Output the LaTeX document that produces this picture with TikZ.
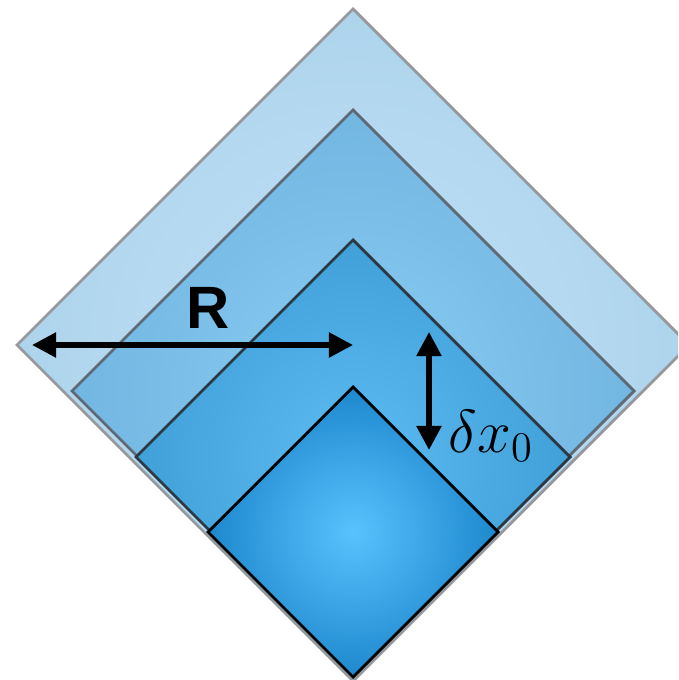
\documentclass[tikz,border=0pt]{standalone}
\usepackage{fontspec}
\setsansfont{Liberation Sans}
\usetikzlibrary{arrows.meta}

\definecolor{shellAin}{RGB}{190,225,245}
\definecolor{shellAout}{RGB}{174,212,237}
\definecolor{shellAedge}{RGB}{150,152,155}
\definecolor{shellBin}{RGB}{138,204,242}
\definecolor{shellBout}{RGB}{114,182,226}
\definecolor{shellBedge}{RGB}{95,105,115}
\definecolor{shellCin}{RGB}{92,187,242}
\definecolor{shellCout}{RGB}{64,160,216}
\definecolor{shellCedge}{RGB}{45,55,65}
\definecolor{coreIn}{RGB}{88,194,254}
\definecolor{coreOut}{RGB}{30,136,206}

\begin{document}
\begin{tikzpicture}[
  x=0.01cm, y=-0.01cm,
  shell/.style={line width=0.8pt, line join=miter},
  dimarrow/.style={{Triangle[length=0.24cm,width=0.24cm]}-{Triangle[length=0.24cm,width=0.24cm]}, line width=1.5pt},
  lab/.style={inner sep=0pt}
]
\useasboundingbox (0,0) rectangle (678,680);
\clip (0,0) rectangle (678,680);

\foreach \cy/\h/\ci/\co/\bd in {345/336/shellAin/shellAout/shellAedge,
                                391/281/shellBin/shellBout/shellBedge,
                                457/217/shellCin/shellCout/shellCedge,
                                532/145/coreIn/coreOut/black}
  \shadedraw[shell, draw=\bd, inner color=\ci, outer color=\co]
    (353,\cy-\h) -- (353+\h,\cy) -- (353,\cy+\h) -- (353-\h,\cy) -- cycle;

\coordinate (rleft) at (32,345);
\coordinate (rright) at (353,345);
\draw[dimarrow] (rleft) -- (rright);
\node[lab, font=\fontsize{17}{20}\selectfont\sffamily\bfseries] (rlab) at (208,308) {R};

\coordinate (dtop) at (429,332);
\coordinate (dbot) at (429,450);
\draw[dimarrow] (dtop) -- (dbot);
\node[lab, anchor=base west, font=\fontsize{18.5}{22}\selectfont] (dlab) at (448,452) {$\delta x_0$};
\end{tikzpicture}
\end{document}
